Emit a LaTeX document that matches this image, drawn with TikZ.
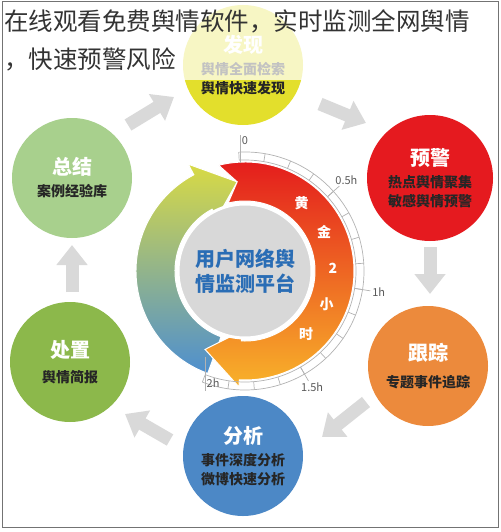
\documentclass[tikz,border=0pt]{standalone}
\usepackage{fontspec}
\newfontfamily\cjk{Noto Sans CJK SC}
\usetikzlibrary{positioning,calc,arrows.meta}
\definecolor{faxianC}{HTML}{E3DF2C}
\definecolor{yujingC}{HTML}{E51A1F}
\definecolor{genzongC}{HTML}{EC8A3C}
\definecolor{fenxiC}{HTML}{4C88C6}
\definecolor{chuzhiC}{HTML}{8CB84B}
\definecolor{zongjieC}{HTML}{A8D08D}
\definecolor{ringRed}{HTML}{E3161C}
\definecolor{ringOrange}{HTML}{EA5A21}
\definecolor{ringYellow}{HTML}{F8B22A}
\definecolor{ringLime}{HTML}{D8DA45}
\definecolor{ringOlive}{HTML}{B0C765}
\definecolor{ringBlue}{HTML}{4E8FCF}
\definecolor{discC}{HTML}{D8D8D8}
\definecolor{platformBlue}{HTML}{2A6DB5}
\newcommand\stagehead[1]{{\color{white}\fontsize{20}{24}\selectfont #1}}
\tikzset{
  stage/.style={circle,fill=#1,minimum size=120pt,inner sep=0pt,align=center,
    text=black!85,font=\cjk\bfseries\fontsize{14}{19}\selectfont},
  flowarrow/.style={draw=gray!30,line width=13pt,-{Triangle[width=30pt,length=20pt]}},
  tickline/.style={gray!60,line width=0.7pt},
  scalelabel/.style={inner sep=1.5pt,text=black!65,font=\cjk\fontsize{11}{12}\selectfont},
  goldlabel/.style={inner sep=0pt,text=white,font=\cjk\bfseries\fontsize{14}{16}\selectfont},
  headline/.style={inner sep=1pt,text=black!80,font=\cjk\fontsize{24.5}{28}\selectfont}
}
\begin{document}
\begin{tikzpicture}[x=1pt,y=-1pt]
\useasboundingbox (0,0) rectangle (500,532);
\node[stage=faxianC] (faxian) at (243,65) {\stagehead{发现}\\[3pt]舆情全面检索\\舆情快速发现};
\node[stage=yujingC,minimum size=126pt] (yujing) at (430,178) {\stagehead{预警}\\[3pt]热点舆情聚集\\敏感舆情预警};
\node[stage=genzongC] (genzong) at (428,366) {\stagehead{跟踪}\\[8pt]专题事件追踪};
\node[stage=fenxiC] (fenxi) at (243,456) {\stagehead{分析}\\[3pt]事件深度分析\\微博快速分析};
\node[stage=chuzhiC] (chuzhi) at (70,362) {\stagehead{处置}\\[6pt]舆情简报};
\node[stage=zongjieC] (zongjie) at (72,178) {\stagehead{总结}\\[3pt]案例经验库};
\coordinate (a1s) at (128,125); \coordinate (a1e) at (174,97);
\coordinate (a2s) at (320,104); \coordinate (a2e) at (366,123);
\coordinate (a3s) at (430,247); \coordinate (a3e) at (430,294);
\coordinate (a4s) at (366,402); \coordinate (a4e) at (322,437);
\coordinate (a5s) at (170,440); \coordinate (a5e) at (125,414);
\coordinate (a6s) at (72,292); \coordinate (a6e) at (72,245);
\foreach \s/\e in {a1s/a1e,a2s/a2e,a3s/a3e,a4s/a4e,a5s/a5e,a6s/a6e}
  \draw[flowarrow] (\s) -- (\e);
\begin{scope}[shift={(245,271)},y=1pt]
\shadedraw[top color=ringLime,middle color=ringOlive,bottom color=ringBlue,draw=white,line width=1pt]
  (250:109) arc[start angle=250,end angle=118,radius=109] -- (118:121) -- (95:89.5)
  -- (118:60) -- (118:70) arc[start angle=118,end angle=250,radius=70] -- cycle;
\shadedraw[top color=ringRed,middle color=ringOrange,bottom color=ringYellow,draw=white,line width=1pt]
  (104:109) arc[start angle=104,end angle=-93,radius=109] -- (-93:116) -- (-117:88)
  -- (-93:60) -- (-93:70) arc[start angle=-93,end angle=104,radius=70] -- (95:89.5) -- cycle;
\draw[tickline] (93:111) arc[start angle=93,end angle=-111,radius=111];
\draw[tickline] (93:119) arc[start angle=93,end angle=-111,radius=119];
\foreach \k in {0,...,16}
  \draw[tickline] ({93-12.75*\k}:111) -- ({93-12.75*\k}:119);
\foreach \a/\anc/\lab in {42/222/0.5h,-9/171/1h,-60/120/1.5h}
  \draw[tickline] (\a:111) -- (\a:127) node[scalelabel,anchor=\anc] {\lab};
\draw[tickline] (-5,108) -- (-5,136) node[scalelabel,anchor=north west] {0};
\draw[tickline] (-40,-86) -- (-40,-120);
\node[scalelabel,anchor=west] (twoh) at (-40,-112) {2h};
\foreach \c [count=\i] in {黄,金,2,小,时}
  \node[goldlabel] at ({74-24*\i}:88) {\c};
\end{scope}
\node[circle,fill=discC,draw=white,line width=3pt,minimum size=134pt,align=center,
  text=platformBlue,font=\cjk\bfseries\fontsize{20}{25}\selectfont] (platform) at (245,271) {用户网络舆\\情监测平台};
\fill[white,opacity=0.72] (0,0) rectangle (500,80);
\node[headline,anchor=west] (title1) at (3,21) {在线观看免费舆情软件，实时监测全网舆情};
\node[headline,anchor=west] (title2) at (3,59) {，快速预警风险};
\draw[black!55,line width=1pt] (2,2) rectangle (498,527);
\end{tikzpicture}
\end{document}
